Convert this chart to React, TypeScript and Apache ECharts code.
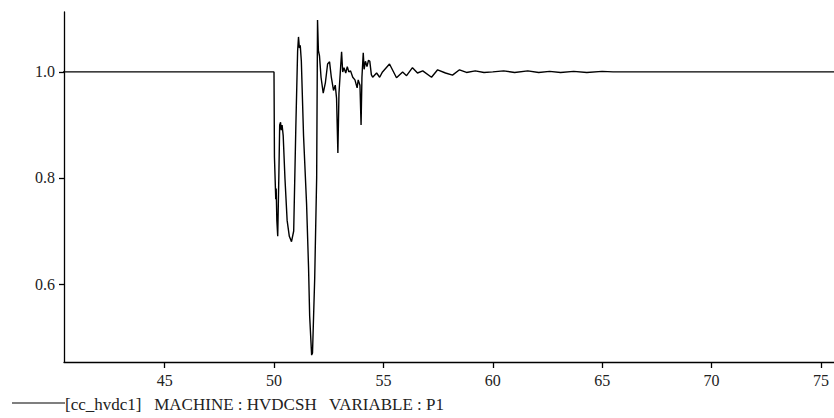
import React, { useEffect, useRef } from "react";
import * as echarts from "echarts";

const timeValues = [
  40.0, 50.0, 50.02, 50.05, 50.08, 50.1, 50.13, 50.17, 50.22, 50.26, 50.3, 50.33, 50.37, 50.42, 50.5, 50.6, 50.7,
  50.8, 50.9, 51.0, 51.08, 51.12, 51.16, 51.2, 51.25, 51.35, 51.49, 51.58, 51.63, 51.72, 51.76, 51.86, 51.95, 51.99,
  52.03, 52.08, 52.15, 52.25, 52.35, 52.45, 52.54, 52.62, 52.72, 52.8, 52.86, 52.92, 52.97, 53.09, 53.14, 53.2, 53.28,
  53.35, 53.42, 53.5, 53.6, 53.7, 53.8, 53.85, 53.93, 53.98, 54.02, 54.08, 54.12, 54.18, 54.25, 54.32, 54.38, 54.45,
  54.51, 54.69, 54.83, 54.96, 55.28, 55.6, 55.88, 56.06, 56.33, 56.56, 56.8, 57.2, 57.48, 57.84, 58.16, 58.48, 58.8,
  59.2, 59.6, 60.0, 60.5, 61.0, 61.6, 62.1, 62.6, 63.1, 63.7, 64.3, 65.0, 65.5, 76.0,
];
const p1Values = [
  1.0, 1.0, 0.84, 0.8, 0.76, 0.78, 0.72, 0.69, 0.8, 0.9, 0.905, 0.89, 0.9, 0.88, 0.8, 0.72, 0.69,
  0.68, 0.7, 0.9, 1.04, 1.066, 1.045, 1.05, 1.02, 0.88, 0.75, 0.63, 0.54, 0.466, 0.47, 0.61, 0.8, 1.098,
  1.04, 1.03, 0.99, 0.96, 0.98, 1.015, 1.019, 0.99, 0.965, 0.975, 0.95, 0.847, 0.96, 1.038, 1.0, 1.008, 0.998,
  1.01, 1.0, 1.002, 0.99, 0.985, 0.97, 0.985, 0.975, 0.9, 0.99, 1.036, 1.005, 1.02, 1.01, 1.022, 1.02, 0.995,
  0.99, 0.998, 0.99, 1.0, 1.015, 0.989, 1.0, 0.993, 1.008, 0.998, 1.002, 0.99, 1.004, 0.998, 0.994, 1.004, 0.999,
  1.002, 0.999, 1.0, 1.002, 0.999, 1.002, 0.999, 1.001, 0.999, 1.001, 0.999, 1.001, 1.0, 1.0,
];
const xTicks = [45, 50, 55, 60, 65, 70, 75];
const yTicks = [0.6, 0.8, 1.0];
const legendText = "[cc_hvdc1]   MACHINE : HVDCSH   VARIABLE : P1";

export default function App() {
  const ref = useRef<HTMLDivElement>(null);
  useEffect(() => {
    if (!ref.current) return;
    const chart = echarts.init(ref.current, null, { renderer: "svg" });
    const font = "Liberation Serif";
    chart.setOption({
      animation: false,
      backgroundColor: "#ffffff",
      grid: { left: 64, right: 0, top: 12, bottom: 56, containLabel: false },
      xAxis: {
        type: "value",
        min: 40.4,
        max: 75.6,
        axisLine: { show: true, lineStyle: { color: "#000", width: 1.3 } },
        axisTick: { show: true, length: 6, customValues: xTicks, lineStyle: { color: "#000", width: 1.3 } },
        axisLabel: {
          customValues: xTicks,
          color: "#222",
          fontFamily: font,
          fontSize: 16,
          margin: 10,
        },
        splitLine: { show: false },
      },
      yAxis: {
        type: "value",
        min: 0.453,
        max: 1.113,
        axisLine: { show: true, lineStyle: { color: "#000", width: 1.3 } },
        axisTick: { show: true, length: 5, customValues: yTicks, lineStyle: { color: "#000", width: 1.3 } },
        axisLabel: {
          customValues: yTicks,
          formatter: (v: number) => v.toFixed(1),
          color: "#222",
          fontFamily: font,
          fontSize: 16,
          margin: 9,
        },
        splitLine: { show: false },
      },
      graphic: [
        {
          type: "line",
          shape: { x1: 12, y1: 403, x2: 65, y2: 403 },
          style: { stroke: "#000", lineWidth: 1.2 },
        },
        {
          type: "text",
          x: 65,
          y: 404,
          style: {
            text: legendText,
            fontFamily: font,
            fontSize: 17,
            fill: "#222",
            verticalAlign: "middle",
            align: "left",
          },
        },
      ],
      series: [
        {
          type: "line",
          data: timeValues.map((t, i) => [t, p1Values[i]]),
          showSymbol: false,
          clip: true,
          lineStyle: { color: "#000", width: 1.4 },
        },
      ],
    });
    return () => chart.dispose();
  }, []);
  return <div ref={ref} style={{ position: "fixed", left: 0, top: 0, width: 834, height: 418 }} />;
}
